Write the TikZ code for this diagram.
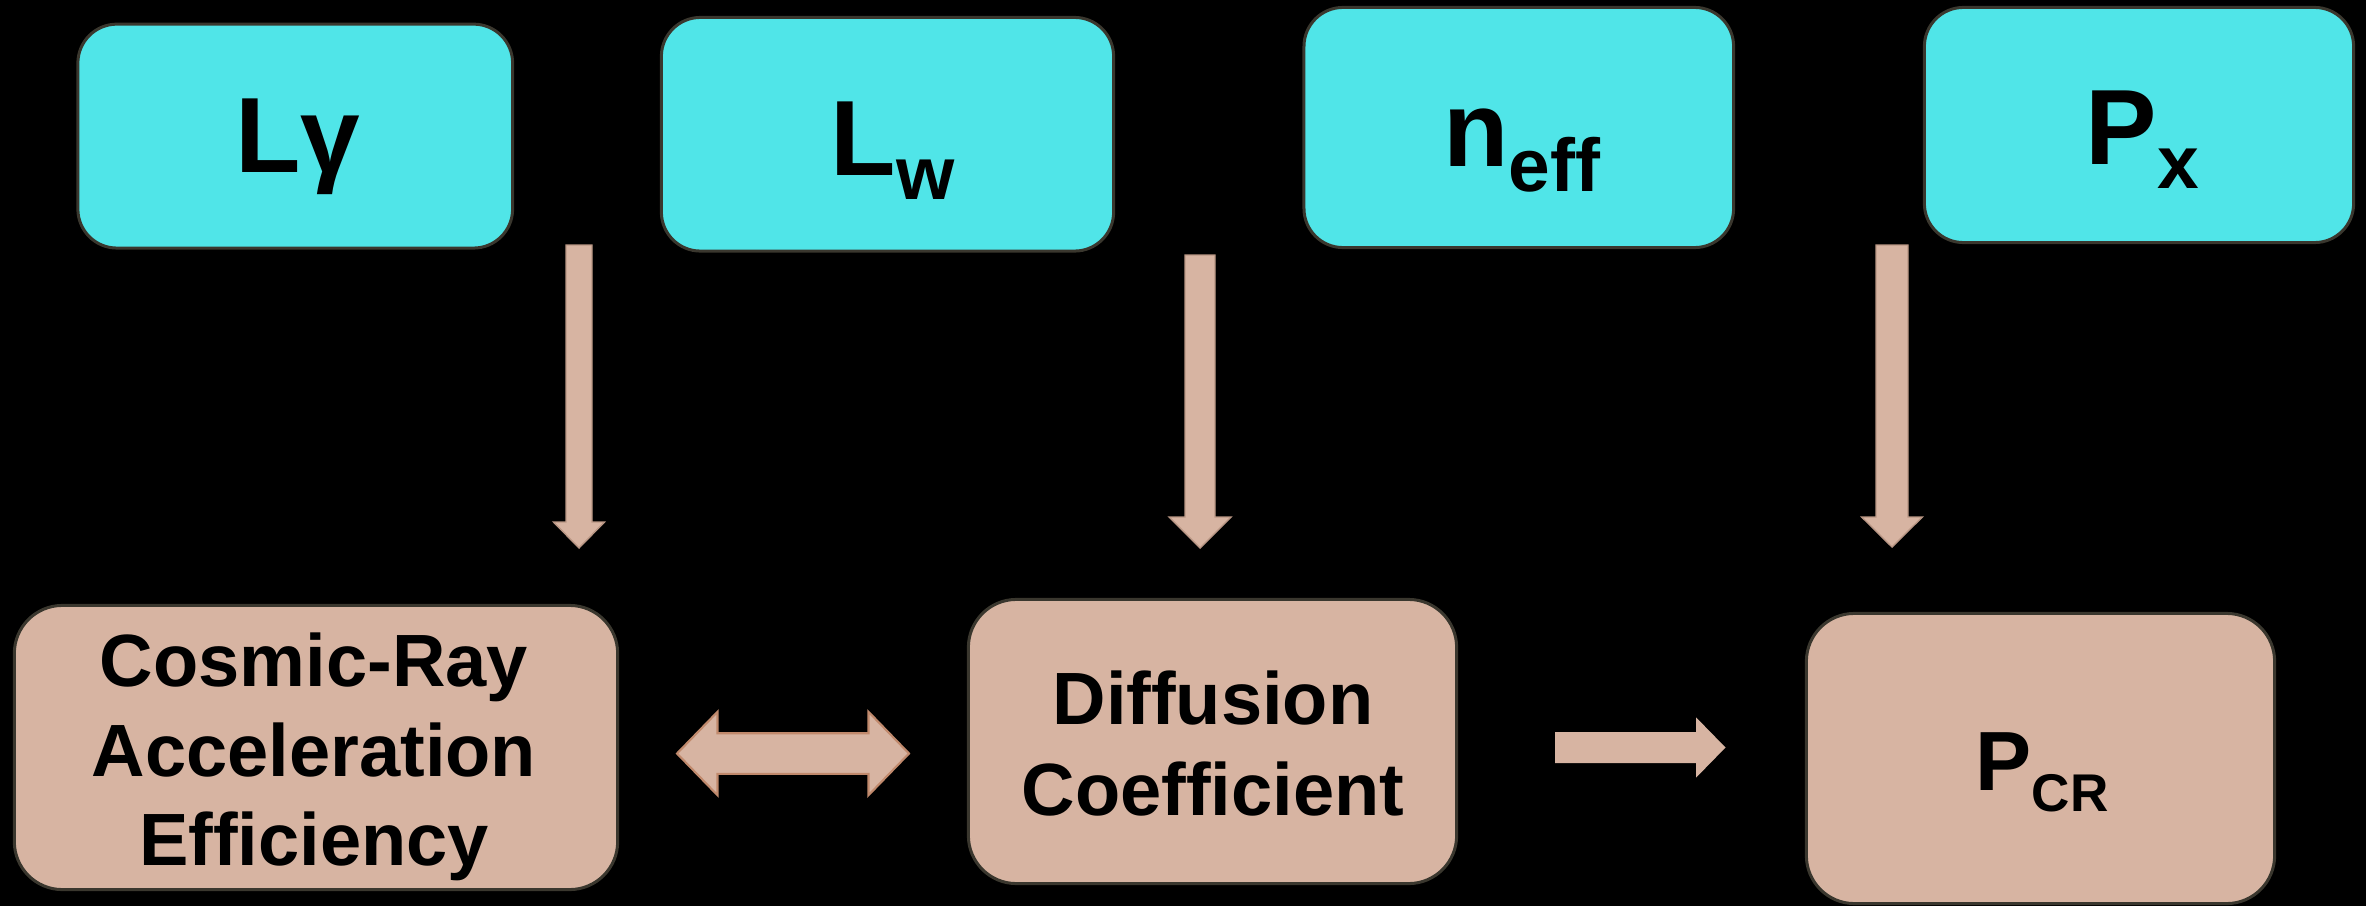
\documentclass[tikz,border=0pt]{standalone}
\usepackage{fontspec}
\setmainfont{Liberation Sans}
\usetikzlibrary{calc}
\definecolor{cyanfill}{RGB}{80,229,232}
\definecolor{tanfill}{RGB}{215,180,162}
\definecolor{boxline}{RGB}{58,55,46}
\definecolor{arrline}{RGB}{192,137,108}
\definecolor{arrlinelight}{RGB}{185,150,132}
\newcommand\subA{\fontsize{21.3}{25}\selectfont}
\newcommand\subB{\fontsize{15.1}{18}\selectfont}
\begin{document}
\begin{tikzpicture}[x=0.01cm,y=-0.01cm,
  topbox/.style={draw=boxline, line width=0.03cm, fill=cyanfill, rounded corners=0.39cm, inner sep=0, outer sep=0},
  botbox/.style={draw=boxline, line width=0.03cm, fill=tanfill, rounded corners=0.48cm, inner sep=0, outer sep=0},
  symb/.style={anchor=base, inner sep=0, font=\fontsize{30.44}{36}\selectfont\bfseries},
  pcrfont/.style={anchor=base, inner sep=0, font=\fontsize{23.9}{28}\selectfont\bfseries},
  txt/.style={anchor=base, inner sep=0, font=\fontsize{21.06}{25}\selectfont\bfseries},
  blockarrow/.style={fill=tanfill, draw=arrlinelight, line width=0.4pt, line join=miter},
  dblarrow/.style={fill=tanfill, draw=arrline, line width=0.6pt, line join=miter}]
\fill[black] (0,0) rectangle (2366,906);
\useasboundingbox (0,0) rectangle (2366,906);

% top boxes
\node[topbox, minimum width=4.345cm, minimum height=2.238cm] (ly) at (295.25,136.1) {};
\node[topbox, minimum width=4.52cm, minimum height=2.335cm] (lw) at (887.5,134.25) {};
\node[topbox, minimum width=4.294cm, minimum height=2.40cm] (neff) at (1518.8,127.5) {};
\node[topbox, minimum width=4.29cm, minimum height=2.35cm] (px) at (2139,125) {};

% bottom boxes
\node[botbox, minimum width=6.03cm, minimum height=2.84cm] (cr) at (316,747.5) {};
\node[botbox, minimum width=4.88cm, minimum height=2.84cm] (dc) at (1212.5,741.5) {};
\node[botbox, minimum width=4.68cm, minimum height=2.90cm] (pcr) at (2040.5,758.5) {};

% texts
\node[symb] (lyT) at (297.5,172) {Lγ};
\node[symb] (lwT) at (892.5,175) {L\raisebox{-6.83pt}{\subA w}};
\node[symb] (neffT) at (1521.5,166.7) {n\raisebox{-7.11pt}{\subA eff}};
\node[symb] (pxT) at (2142.5,164) {P\raisebox{-6.83pt}{\subA x}};
\node[pcrfont] (pcrT) at (2042,790) {P\raisebox{-6pt}{\subB CR}};
\node[txt] (cr1) at (314,686.7) {Cosmic-Ray};
\node[txt] (cr2) at (314,776) {Acceleration};
\node[txt] (cr3) at (314,865) {Efficiency};
\node[txt] (dc1) at (1213,724) {Diffusion};
\node[txt] (dc2) at (1213,815) {Coefficient};

% arrow end points
\coordinate (a1s) at (579,245);  \coordinate (a1e) at (579,548);
\coordinate (a2s) at (1200,255); \coordinate (a2e) at (1200,548);
\coordinate (a3s) at (1892,245); \coordinate (a3e) at (1892,547);
\coordinate (ras) at (1555,747.5); \coordinate (rae) at (1725.5,747.5);
\coordinate (dal) at (677,753.5); \coordinate (dar) at (909,753.5);

% down arrows
\path[blockarrow] ($(a1s)+(-13,0)$) -- ($(a1s)+(13,0)$) -- ($(a1e)+(13,-26)$) -- ($(a1e)+(25.5,-26)$) -- (a1e) -- ($(a1e)+(-25.5,-26)$) -- ($(a1e)+(-13,-26)$) -- cycle;
\path[blockarrow] ($(a2s)+(-15,0)$) -- ($(a2s)+(15,0)$) -- ($(a2e)+(15,-31)$) -- ($(a2e)+(31,-31)$) -- (a2e) -- ($(a2e)+(-31,-31)$) -- ($(a2e)+(-15,-31)$) -- cycle;
\path[blockarrow] ($(a3s)+(-16,0)$) -- ($(a3s)+(16,0)$) -- ($(a3e)+(16,-30)$) -- ($(a3e)+(30.3,-30)$) -- (a3e) -- ($(a3e)+(-30.3,-30)$) -- ($(a3e)+(-16,-30)$) -- cycle;

% right arrow
\path[blockarrow, draw=none] ($(ras)+(0,-15.5)$) -- ($(rae)+(-29.5,-15.5)$) -- ($(rae)+(-29.5,-30.2)$) -- (rae) -- ($(rae)+(-29.5,30.2)$) -- ($(rae)+(-29.5,15.5)$) -- ($(ras)+(0,15.5)$) -- cycle;

% double arrow
\path[dblarrow] (dal) -- ($(dal)+(40.5,-41.7)$) -- ($(dal)+(40.5,-20.3)$) -- ($(dar)+(-40.5,-20.3)$) -- ($(dar)+(-40.5,-41.7)$) -- (dar) -- ($(dar)+(-40.5,41.7)$) -- ($(dar)+(-40.5,20.3)$) -- ($(dal)+(40.5,20.3)$) -- ($(dal)+(40.5,41.7)$) -- cycle;
\end{tikzpicture}
\end{document}
